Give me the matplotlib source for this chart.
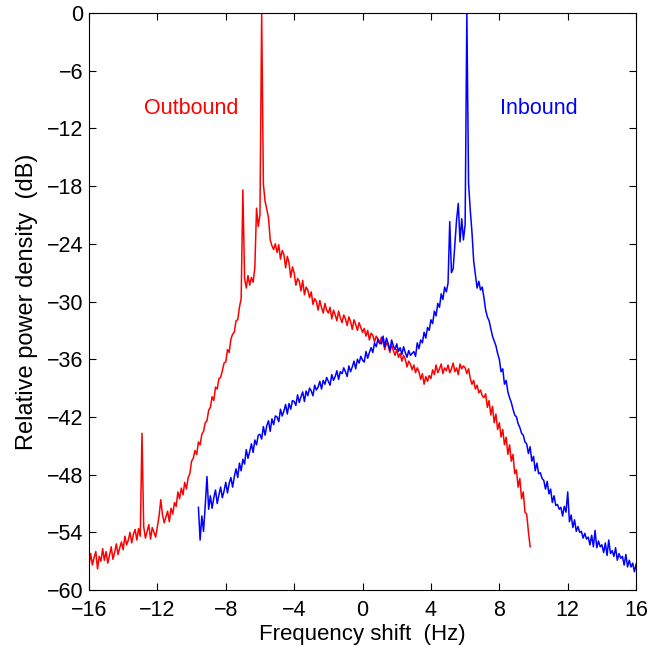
import numpy as np
import matplotlib

matplotlib.use('Agg')
import matplotlib.pyplot as plt

plt.rcParams['font.family'] = ['Liberation Sans', 'DejaVu Sans']

# frequency grid start and spacing (Hz)
STEP = 0.1
RED_START = -16.0
BLUE_START = -9.6

# outbound spectrum, dB, every 0.1 Hz
red_db = [
    -57.5, -56.2, -57.4, -56.6, -56.0, -57.8, -56.5, -57.0, -55.7, -56.9,
    -56.0, -57.2, -56.4, -55.5, -56.8, -56.1, -55.2, -56.3, -55.6, -55.0,
    -55.8, -54.4, -55.3, -54.8, -54.0, -55.1, -54.2, -53.7, -54.8, -53.6,
    -54.4, -43.7, -53.4, -54.6, -53.9, -53.2, -54.7, -53.5, -54.0, -54.5,
    -53.4, -52.3, -50.6, -52.2, -53.0, -52.4, -51.8, -52.9, -51.5, -52.1,
    -50.9, -51.3, -49.8, -50.5, -49.4, -50.1, -48.8, -49.5, -48.3, -47.9,
    -46.6, -46.3, -45.5, -45.9, -44.6, -44.9, -43.8, -43.5, -42.6, -42.4,
    -41.3, -41.0, -39.9, -40.3, -38.9, -39.1, -38.0, -37.9, -37.2, -36.4,
    -36.3, -35.0, -35.3, -33.9, -33.4, -33.2, -32.0, -31.9, -30.6, -29.7,
    -18.4, -27.6, -28.6, -27.3, -28.3, -27.5, -28.0, -26.5, -20.3, -22.2,
    -21.0, 0.0, -17.8, -19.6, -20.4, -21.3, -23.6, -24.2, -24.6, -24.0,
    -24.9, -24.1, -25.6, -24.7, -25.1, -26.5, -25.3, -26.0, -27.5, -26.4,
    -27.0, -28.3, -27.6, -27.9, -28.9, -27.8, -29.3, -28.5, -28.8, -29.6,
    -29.0, -30.3, -29.7, -30.0, -30.9, -29.9, -30.6, -31.2, -30.2, -30.9,
    -31.2, -30.6, -31.8, -30.9, -31.4, -32.0, -31.0, -31.7, -32.2, -31.4,
    -31.8, -32.5, -31.6, -32.1, -32.9, -31.9, -32.4, -33.0, -32.2, -32.7,
    -33.2, -32.8, -33.6, -33.0, -34.0, -33.3, -33.5, -34.2, -33.6, -33.9,
    -34.4, -33.7, -34.2, -35.0, -34.3, -34.6, -35.3, -34.5, -35.1, -35.6,
    -35.0, -35.8, -35.4, -36.2, -35.6, -36.0, -36.8, -36.2, -36.5, -37.1,
    -36.6, -37.4, -36.9, -37.3, -38.1, -37.5, -38.6, -37.8, -38.3, -37.7,
    -38.0, -37.1, -37.6, -36.6, -37.4, -37.0, -36.5, -37.5, -36.9, -37.2,
    -36.6, -37.4, -37.0, -36.4, -37.3, -36.9, -37.6, -36.5, -37.0, -36.7,
    -36.9, -37.5, -37.0, -38.0, -38.6, -38.2, -39.1, -38.7, -39.5, -39.2,
    -39.8, -40.0, -39.6, -41.0, -40.3, -41.8, -40.9, -42.6, -41.7, -43.3,
    -42.6, -44.1, -43.3, -44.9, -44.1, -45.9, -44.9, -46.6, -45.9, -47.9,
    -47.5, -49.3, -48.4, -50.5, -49.8, -51.9, -52.1, -53.9, -55.5,
]

# inbound spectrum, dB
blue_db = [
    -51.4, -54.8, -52.3, -53.9, -51.2, -48.2,
    -51.6, -50.2, -51.5, -50.4, -49.6, -51.0, -50.1, -49.3, -50.4, -49.7,
    -48.8, -49.9, -48.9, -48.3, -49.3, -48.2, -47.4, -48.3, -46.8, -47.6,
    -46.4, -46.9, -45.4, -46.3, -45.6, -44.8, -45.7, -44.4, -44.9, -43.9,
    -43.8, -44.3, -43.0, -43.9, -42.9, -42.4, -43.5, -42.2, -42.8, -41.9,
    -42.0, -42.5, -41.2, -41.9, -41.4, -40.7, -41.7, -40.6, -41.2, -40.3,
    -40.4, -40.8, -39.7, -40.5, -39.9, -39.4, -40.4, -39.3, -39.8, -39.0,
    -39.3, -39.8, -38.7, -39.2, -38.9, -38.3, -39.1, -38.2, -38.6, -37.9,
    -38.3, -38.7, -37.6, -38.2, -37.8, -37.2, -38.1, -37.3, -37.5, -36.9,
    -37.3, -37.8, -36.7, -37.3, -36.8, -36.2, -37.0, -36.0, -36.4, -35.7,
    -36.1, -36.3, -35.2, -35.9, -35.3, -34.8, -35.3, -34.3, -34.7, -33.9,
    -34.3, -34.4, -33.6, -34.7, -33.8, -34.4, -35.1, -34.0, -34.6, -35.0,
    -34.4, -35.2, -34.8, -35.5, -34.7, -35.3, -35.8, -35.1, -35.6, -35.4,
    -35.2, -35.7, -34.3, -34.9, -34.0, -34.3, -33.2, -33.8, -32.7, -33.0,
    -31.9, -32.3, -31.0, -31.5, -30.2, -30.6, -29.2, -29.8, -28.5, -29.0,
    -28.1, -21.7, -27.0, -26.6, -24.0, -21.5, -19.8, -23.8, -21.4, -23.6,
    -22.0, 0.0, -17.7, -20.5, -22.8, -25.8, -27.2, -28.6, -27.9, -28.8,
    -28.5, -29.6, -30.9, -31.6, -32.0, -32.8, -33.6, -34.1, -34.6, -35.4,
    -36.0, -37.3, -37.0, -38.6, -38.2, -39.4, -40.0, -40.5, -41.2, -41.8,
    -42.0, -42.7, -43.1, -43.7, -43.9, -44.6, -44.8, -45.8, -45.1, -46.6,
    -46.1, -47.6, -46.8, -47.9, -47.8, -48.4, -48.6, -49.5, -48.7, -50.0,
    -49.5, -50.9, -50.2, -51.2, -51.1, -51.6, -51.4, -52.3, -51.3, -51.9,
    -49.8, -52.9, -52.2, -53.5, -52.7, -53.9, -53.4, -54.0, -53.9, -54.6,
    -54.1, -54.7, -54.5, -55.3, -54.3, -55.5, -53.8, -55.6, -54.9, -55.5,
    -55.3, -56.1, -55.1, -56.4, -54.8, -56.2, -55.9, -56.5, -55.6, -56.9,
    -56.2, -56.7, -56.5, -57.4, -56.3, -57.6, -56.9, -57.6, -57.2, -58.1,
    -57.3,
]

x_ticks = list(range(-16, 17, 4))
y_ticks = list(range(-60, 1, 6))

red_f = RED_START + STEP * np.arange(len(red_db))
blue_f = BLUE_START + STEP * np.arange(len(blue_db))

fig = plt.figure(figsize=(6.64, 6.47), dpi=100)
ax = fig.add_axes([0.134, 0.088, 0.824, 0.892])

ax.plot(red_f, red_db, color='#ff0000', lw=1.1)
ax.plot(blue_f, blue_db, color='#0000ff', lw=1.1)

ax.text(-10.0, -9.9, 'Outbound', color='#ff0000', fontsize=15.5,
        ha='center', va='center')
ax.text(10.3, -9.9, 'Inbound', color='#0000ff', fontsize=15.5,
        ha='center', va='center')

ax.set_xlim(-16, 16)
ax.set_ylim(-60, 0)
ax.set_xticks(x_ticks)
ax.set_yticks(y_ticks)
ax.tick_params(direction='in', top=True, right=True, length=5,
               labelsize=15.5, width=0.8)
ax.tick_params(axis='x', pad=7)
ax.tick_params(axis='y', pad=4)
for s in ax.spines.values():
    s.set_linewidth(0.8)
ax.set_xlabel('Frequency shift  (Hz)', fontsize=16)
ax.set_ylabel('Relative power density  (dB)', fontsize=17)
ax.xaxis.set_label_coords(0.5, -0.058)
ax.yaxis.set_label_coords(-0.093, 0.5)

fig.savefig('out.png', dpi=100)
